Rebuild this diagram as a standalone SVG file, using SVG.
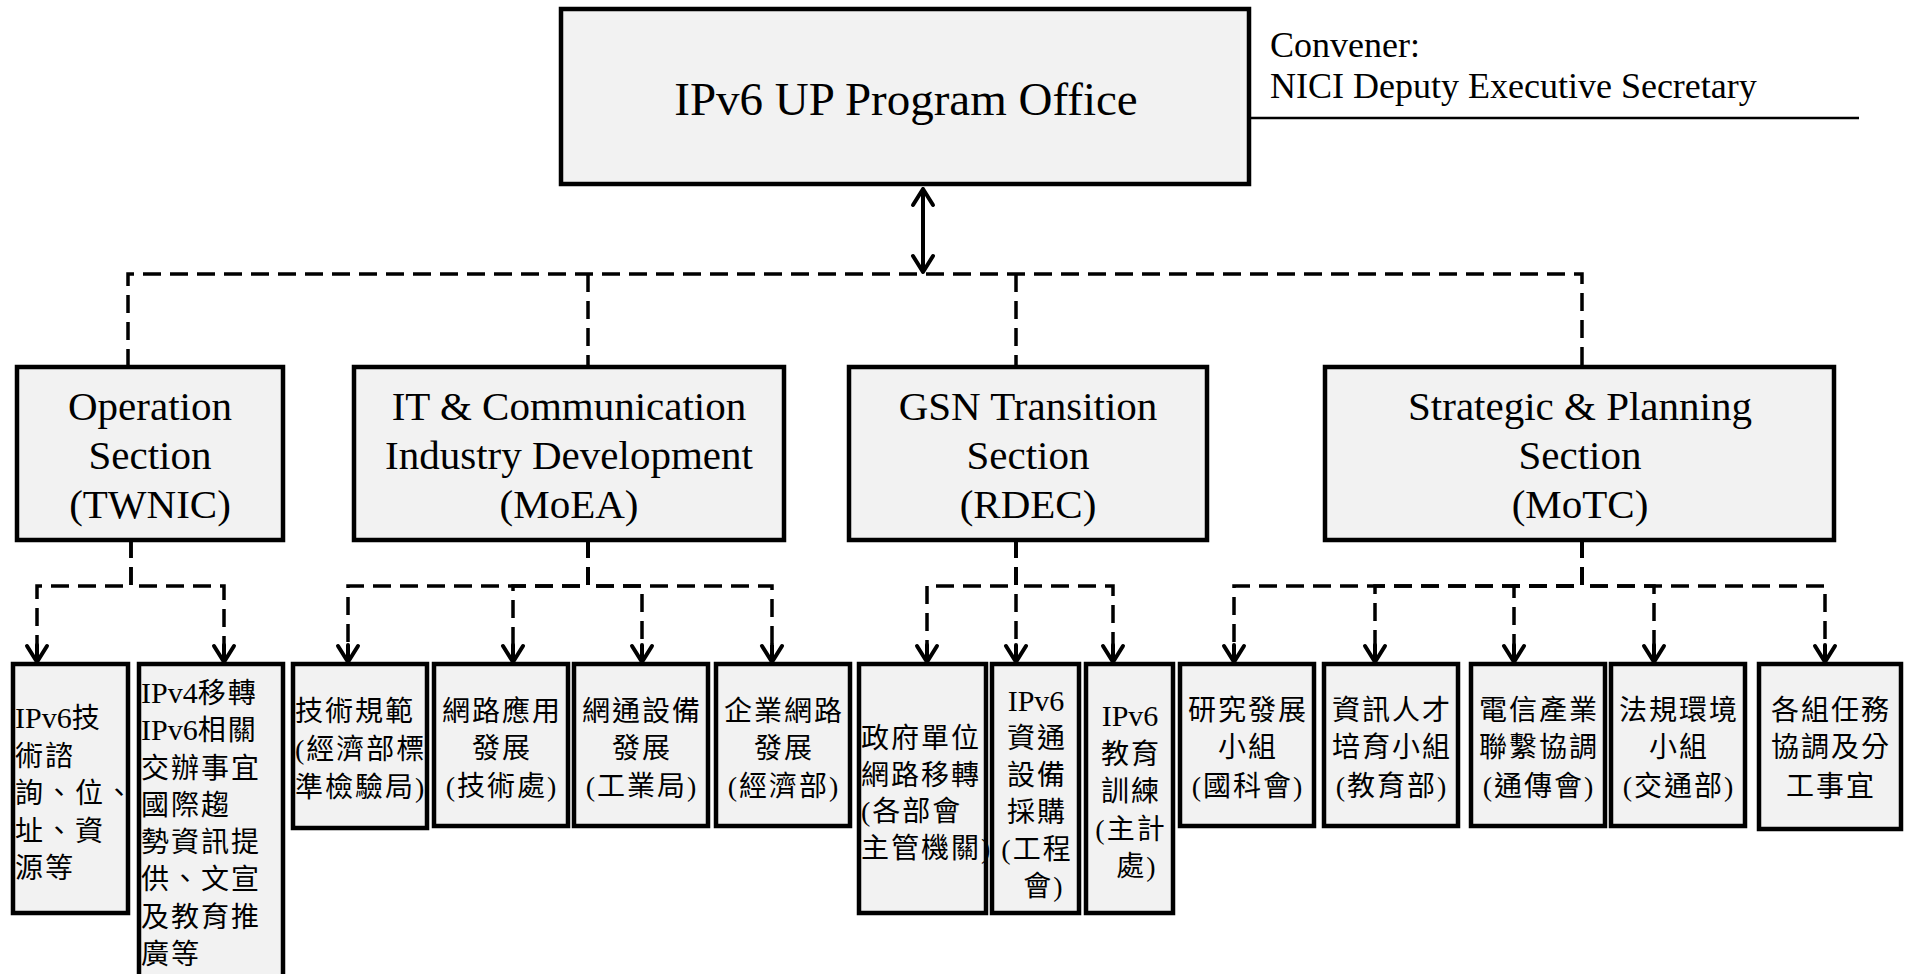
<svg xmlns="http://www.w3.org/2000/svg" width="1905" height="974" viewBox="0 0 1905 974">
<defs>
<style>
.box{fill:#f2f2f2;stroke:#000;stroke-width:4.5}
.t{font-family:"Liberation Serif","Noto Sans CJK TC",serif;fill:#000}
.title{font-size:47px;text-anchor:middle}
.conv{font-size:36px}
.sec{font-size:41px;text-anchor:middle}
.leaf{font-size:28px;letter-spacing:2px}
.lat{font-size:30px;letter-spacing:0}
.c{text-anchor:middle}
.dash{fill:none;stroke:#000;stroke-width:3.5;stroke-dasharray:18 9}
.solid{fill:none;stroke:#000;stroke-width:4}
</style>
<marker id="arr" markerUnits="userSpaceOnUse" viewBox="0 0 18 22" markerWidth="18" markerHeight="22" refX="17" refY="11" orient="auto-start-reverse" style="overflow:visible">
<path d="M1,1 L17,11 L1,21 M0,11 H17" fill="none" stroke="#000" stroke-width="4" stroke-dasharray="none" stroke-linecap="round" stroke-linejoin="round"/>
</marker>
</defs>
<rect width="1905" height="974" fill="#fff"/>

<g id="connectors">
<line x1="923" y1="189" x2="923" y2="272" class="solid" marker-start="url(#arr)" marker-end="url(#arr)"/>
<line x1="1249" y1="118" x2="1859" y2="118" stroke="#000" stroke-width="2.5"/>
<path class="dash" d="M128,367 V274 H1582 V367"/>
<path class="dash" d="M588,274 V367"/>
<path class="dash" d="M1016,274 V367"/>
<path class="dash" d="M131,540 V586 H37 V662" marker-end="url(#arr)"/>
<path class="dash" d="M131,540 V586 H224 V662" marker-end="url(#arr)"/>
<path class="dash" d="M588,540 V586 H348 V662" marker-end="url(#arr)"/>
<path class="dash" d="M588,540 V586 H513 V662" marker-end="url(#arr)"/>
<path class="dash" d="M588,540 V586 H642 V662" marker-end="url(#arr)"/>
<path class="dash" d="M588,540 V586 H772 V662" marker-end="url(#arr)"/>
<path class="dash" d="M1016,540 V586 H927 V662" marker-end="url(#arr)"/>
<path class="dash" d="M1016,540 V662" marker-end="url(#arr)"/>
<path class="dash" d="M1016,540 V586 H1113 V662" marker-end="url(#arr)"/>
<path class="dash" d="M1582,540 V586 H1234 V662" marker-end="url(#arr)"/>
<path class="dash" d="M1582,540 V586 H1375 V662" marker-end="url(#arr)"/>
<path class="dash" d="M1582,540 V586 H1514 V662" marker-end="url(#arr)"/>
<path class="dash" d="M1582,540 V586 H1654 V662" marker-end="url(#arr)"/>
<path class="dash" d="M1582,540 V586 H1825 V662" marker-end="url(#arr)"/>
</g>

<g id="program-office">
<rect class="box" x="561" y="9" width="688" height="175"/>
<text class="t title" x="906" y="115">IPv6 UP Program Office</text>
</g>
<g id="convener">
<text class="t conv" x="1270" y="57">Convener:</text>
<text class="t conv" x="1270" y="98">NICI Deputy Executive Secretary</text>
</g>

<g id="operation">
<rect class="box" x="17" y="367" width="266" height="173"/>
<text class="t sec" x="150"><tspan x="150" y="420">Operation</tspan><tspan x="150" y="469">Section</tspan><tspan x="150" y="518">(TWNIC)</tspan></text>
</g>
<g id="it-comm">
<rect class="box" x="354" y="367" width="430" height="173"/>
<text class="t sec" x="569"><tspan x="569" y="420">IT &amp; Communication</tspan><tspan x="569" y="469">Industry Development</tspan><tspan x="569" y="518">(MoEA)</tspan></text>
</g>
<g id="gsn">
<rect class="box" x="849" y="367" width="358" height="173"/>
<text class="t sec" x="1028"><tspan x="1028" y="420">GSN Transition</tspan><tspan x="1028" y="469">Section</tspan><tspan x="1028" y="518">(RDEC)</tspan></text>
</g>
<g id="strategic">
<rect class="box" x="1325" y="367" width="509" height="173"/>
<text class="t sec" x="1580"><tspan x="1580" y="420">Strategic &amp; Planning</tspan><tspan x="1580" y="469">Section</tspan><tspan x="1580" y="518">(MoTC)</tspan></text>
</g>

<g id="leaf1">
<rect class="box" x="13" y="664" width="115" height="249"/>
<text class="t leaf"><tspan x="15" y="728"><tspan class="lat">IPv6</tspan>技</tspan><tspan x="15" y="765.5">術諮</tspan><tspan x="15" y="803">詢、位、</tspan><tspan x="15" y="840.5">址、資</tspan><tspan x="15" y="878">源等</tspan></text>
</g>
<g id="leaf2">
<rect class="box" x="139" y="664" width="144" height="316"/>
<text class="t leaf"><tspan x="141" y="703"><tspan class="lat">IPv4</tspan>移轉</tspan><tspan x="141" y="740"><tspan class="lat">IPv6</tspan>相關</tspan><tspan x="141" y="777.5">交辦事宜</tspan><tspan x="141" y="814.5">國際趨</tspan><tspan x="141" y="852">勢資訊提</tspan><tspan x="141" y="889">供、文宣</tspan><tspan x="141" y="926.5">及教育推</tspan><tspan x="141" y="963.5">廣等</tspan></text>
</g>
<g id="leaf3">
<rect class="box" x="293" y="664" width="134" height="164"/>
<text class="t leaf"><tspan x="295" y="721">技術規範</tspan><tspan x="295" y="759">(經濟部標</tspan><tspan x="295" y="797">準檢驗局)</tspan></text>
</g>
<g id="leaf4">
<rect class="box" x="434" y="664" width="134" height="162"/>
<text class="t leaf c"><tspan x="502" y="721">網路應用</tspan><tspan x="502" y="758">發展</tspan><tspan x="502" y="796">(技術處)</tspan></text>
</g>
<g id="leaf5">
<rect class="box" x="574" y="664" width="134" height="162"/>
<text class="t leaf c"><tspan x="642" y="721">網通設備</tspan><tspan x="642" y="758">發展</tspan><tspan x="642" y="796">(工業局)</tspan></text>
</g>
<g id="leaf6">
<rect class="box" x="716" y="664" width="134" height="162"/>
<text class="t leaf c"><tspan x="784" y="721">企業網路</tspan><tspan x="784" y="758">發展</tspan><tspan x="784" y="796">(經濟部)</tspan></text>
</g>
<g id="leaf7">
<rect class="box" x="859" y="664" width="127" height="249"/>
<text class="t leaf"><tspan x="861" y="748">政府單位</tspan><tspan x="861" y="784.5">網路移轉</tspan><tspan x="861" y="821">(各部會</tspan><tspan x="861" y="857.5">主管機關)</tspan></text>
</g>
<g id="leaf8">
<rect class="box" x="992" y="664" width="87" height="249"/>
<text class="t leaf c"><tspan x="1036" y="711" class="lat">IPv6</tspan><tspan x="1037" y="748">資通</tspan><tspan x="1037" y="785">設備</tspan><tspan x="1037" y="822">採購</tspan><tspan x="1037" y="859">(工程</tspan><tspan x="1044" y="896">會)</tspan></text>
</g>
<g id="leaf9">
<rect class="box" x="1086" y="664" width="87" height="249"/>
<text class="t leaf c"><tspan x="1130" y="726" class="lat">IPv6</tspan><tspan x="1131" y="763.5">教育</tspan><tspan x="1131" y="801">訓練</tspan><tspan x="1131" y="838.5">(主計</tspan><tspan x="1137" y="876">處)</tspan></text>
</g>
<g id="leaf10">
<rect class="box" x="1180" y="664" width="134" height="162"/>
<text class="t leaf c"><tspan x="1248" y="720">研究發展</tspan><tspan x="1248" y="757">小組</tspan><tspan x="1248" y="796">(國科會)</tspan></text>
</g>
<g id="leaf11">
<rect class="box" x="1324" y="664" width="134" height="162"/>
<text class="t leaf c"><tspan x="1392" y="720">資訊人才</tspan><tspan x="1392" y="757">培育小組</tspan><tspan x="1392" y="796">(教育部)</tspan></text>
</g>
<g id="leaf12">
<rect class="box" x="1471" y="664" width="134" height="162"/>
<text class="t leaf c"><tspan x="1539" y="720">電信產業</tspan><tspan x="1539" y="757">聯繫協調</tspan><tspan x="1539" y="796">(通傳會)</tspan></text>
</g>
<g id="leaf13">
<rect class="box" x="1611" y="664" width="134" height="162"/>
<text class="t leaf c"><tspan x="1679" y="720">法規環境</tspan><tspan x="1679" y="757">小組</tspan><tspan x="1679" y="796">(交通部)</tspan></text>
</g>
<g id="leaf14">
<rect class="box" x="1759" y="664" width="142" height="165"/>
<text class="t leaf c"><tspan x="1831" y="720">各組任務</tspan><tspan x="1831" y="757">協調及分</tspan><tspan x="1831" y="796">工事宜</tspan></text>
</g>
</svg>
